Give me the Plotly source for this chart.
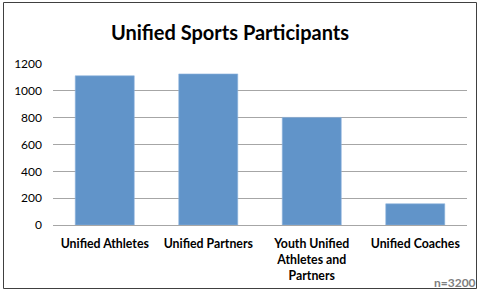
import plotly.graph_objects as go

categories = ["Unified Athletes", "Unified Partners", "Youth Unified<br>Athletes and<br>Partners", "Unified Coaches"]
values = [1112, 1126, 802, 158]
y_ticks = [0, 200, 400, 600, 800, 1000, 1200]
title_text = "Unified Sports Participants"
note_text = "n=3200"

W, H = 480, 291
L, R, T, B = 53, 13, 64, 66
pw, ph = W - L - R, H - T - B

def px_to_paper_x(px):
    return (px - L) / pw

def px_to_paper_y(py):
    return (H - B - py) / ph

fig = go.Figure(go.Bar(
    x=categories, y=values,
    marker=dict(color="#6194C9", line=dict(color="#8FB4DD", width=0.6)),
    width=0.57,
))

fig.update_layout(
    width=W, height=H,
    margin=dict(l=L, r=R, t=T, b=B),
    plot_bgcolor="white", paper_bgcolor="white",
    font=dict(family="Lato, Open Sans, sans-serif", color="#000000", size=11),
    showlegend=False,
    title=dict(text="<b>" + title_text + "</b>", x=230 / W, xanchor="center",
               xref="container", y=1 - 33 / H, yanchor="middle", yref="container",
               font=dict(size=20, family="Lato, sans-serif", color="#000000")),
)
fig.update_yaxes(range=[0, 1200], tickvals=y_ticks, showgrid=True, gridcolor="#A6A6A6",
                 gridwidth=1, zeroline=False, showline=False, ticks="", automargin=False,
                 ticklabelstandoff=10, tickfont=dict(size=12, family="Lato, sans-serif"))
fig.update_xaxes(showgrid=False, showline=True, linecolor="#A6A6A6", linewidth=1,
                 ticks="", tickfont=dict(size=12.3, family="Lato, sans-serif"), automargin=False,
                 ticklabelstandoff=7, tickprefix="<b>", ticksuffix="</b>")

fig.add_shape(type="rect", xref="paper", yref="paper",
              x0=px_to_paper_x(3.5), x1=px_to_paper_x(476.5),
              y0=px_to_paper_y(288.5), y1=px_to_paper_y(2.5),
              line=dict(color="#404040", width=1), fillcolor="rgba(0,0,0,0)", layer="above")
fig.add_annotation(text="<b>" + note_text + "</b>", xref="paper", yref="paper",
                   x=px_to_paper_x(478), y=px_to_paper_y(282), xanchor="right", yanchor="middle",
                   showarrow=False, font=dict(size=12, color="#7F7F7F", family="Lato, sans-serif"))

fig.write_html("out.html", config={"displayModeBar": False},
               post_script="document.body.style.margin='0';document.body.style.overflow='hidden';")
